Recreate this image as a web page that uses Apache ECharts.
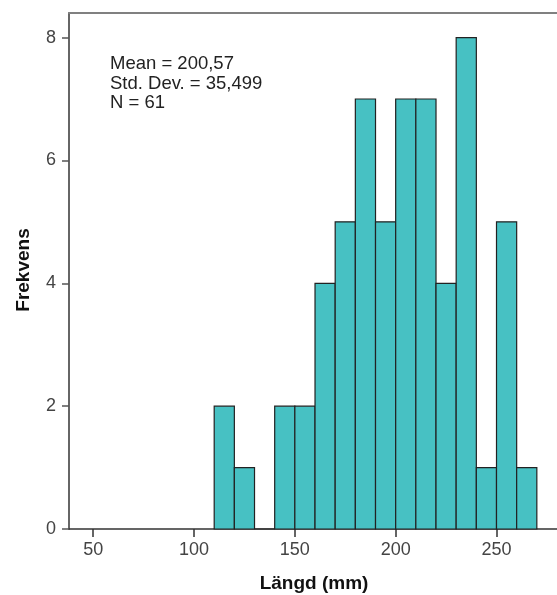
<!DOCTYPE html>
<html>
<head>
<meta charset="utf-8">
<script src="https://cdn.jsdelivr.net/npm/echarts@6/dist/echarts.min.js"></script>
<style>
  html, body { margin: 0; padding: 0; background: #fff; }
  #chart { width: 557px; height: 595px; }
</style>
</head>
<body>
<div id="chart"></div>
<script>
// histogram bins (lower edge, mm) and frequencies
const binStarts = [110, 120, 130, 140, 150, 160, 170, 180, 190, 200, 210, 220, 230, 240, 250, 260]
const counts = [2, 1, 0, 2, 2, 4, 5, 7, 5, 7, 7, 4, 8, 1, 5, 1]
const binWidth = 10
const xTicks = [50, 100, 150, 200, 250]
const yTicks = [0, 2, 4, 6, 8]
const statsLines = ['Mean = 200,57', 'Std. Dev. = 35,499', 'N = 61']

const font = 'Arial, "Liberation Sans", sans-serif'
const chart = echarts.init(document.getElementById('chart'))

const barData = binStarts.map((s, i) => [s, s + binWidth, counts[i]])

chart.setOption({
  animation: false,
  grid: { left: 69, top: 13, width: 489, height: 516, show: false },
  xAxis: [
    {
      type: 'value',
      min: 38,
      max: 280,
      axisLine: { show: true, onZero: false, lineStyle: { color: '#333', width: 1.5 } },
      axisTick: { show: true, length: 8, customValues: xTicks, lineStyle: { color: '#333', width: 1.5 } },
      axisLabel: { customValues: xTicks, margin: 12, color: '#444', fontSize: 18, fontFamily: font },
      splitLine: { show: false }
    },
    {
      type: 'value',
      position: 'top',
      min: 38,
      max: 280,
      axisLine: { show: true, onZero: false, lineStyle: { color: '#808080', width: 2 } },
      axisTick: { show: false },
      axisLabel: { show: false },
      splitLine: { show: false }
    }
  ],
  yAxis: {
    type: 'value',
    min: 0,
    max: 8.4,
    axisLine: { show: true, onZero: false, lineStyle: { color: '#666', width: 2 } },
    axisTick: { show: true, length: 7, customValues: yTicks, lineStyle: { color: '#555', width: 1.5 } },
    axisLabel: { customValues: yTicks, margin: 13, color: '#444', fontSize: 18, fontFamily: font },
    splitLine: { show: false }
  },
  series: [{
    type: 'custom',
    xAxisIndex: 0,
    data: barData,
    renderItem: function (params, api) {
      const p0 = api.coord([api.value(0), api.value(2)])
      const p1 = api.coord([api.value(1), 0])
      return {
        type: 'rect',
        shape: { x: p0[0], y: p0[1], width: p1[0] - p0[0], height: p1[1] - p0[1] },
        style: { fill: '#47c1c3', stroke: '#222', lineWidth: 1.2 }
      }
    }
  }],
  graphic: [
    {
      type: 'text', left: 110, top: 54,
      style: { text: statsLines.join('\n'), font: '18.5px ' + font, fill: '#222', lineHeight: 19.7 }
    },
    {
      type: 'text', x: 24, y: 270, rotation: Math.PI / 2,
      style: { text: 'Frekvens', font: 'bold 19px ' + font, fill: '#111', align: 'center', verticalAlign: 'middle' }
    },
    {
      type: 'text', x: 314, y: 584,
      style: { text: 'Längd (mm)', font: 'bold 19px ' + font, fill: '#111', align: 'center', verticalAlign: 'middle' }
    }
  ]
})
</script>
</body>
</html>
